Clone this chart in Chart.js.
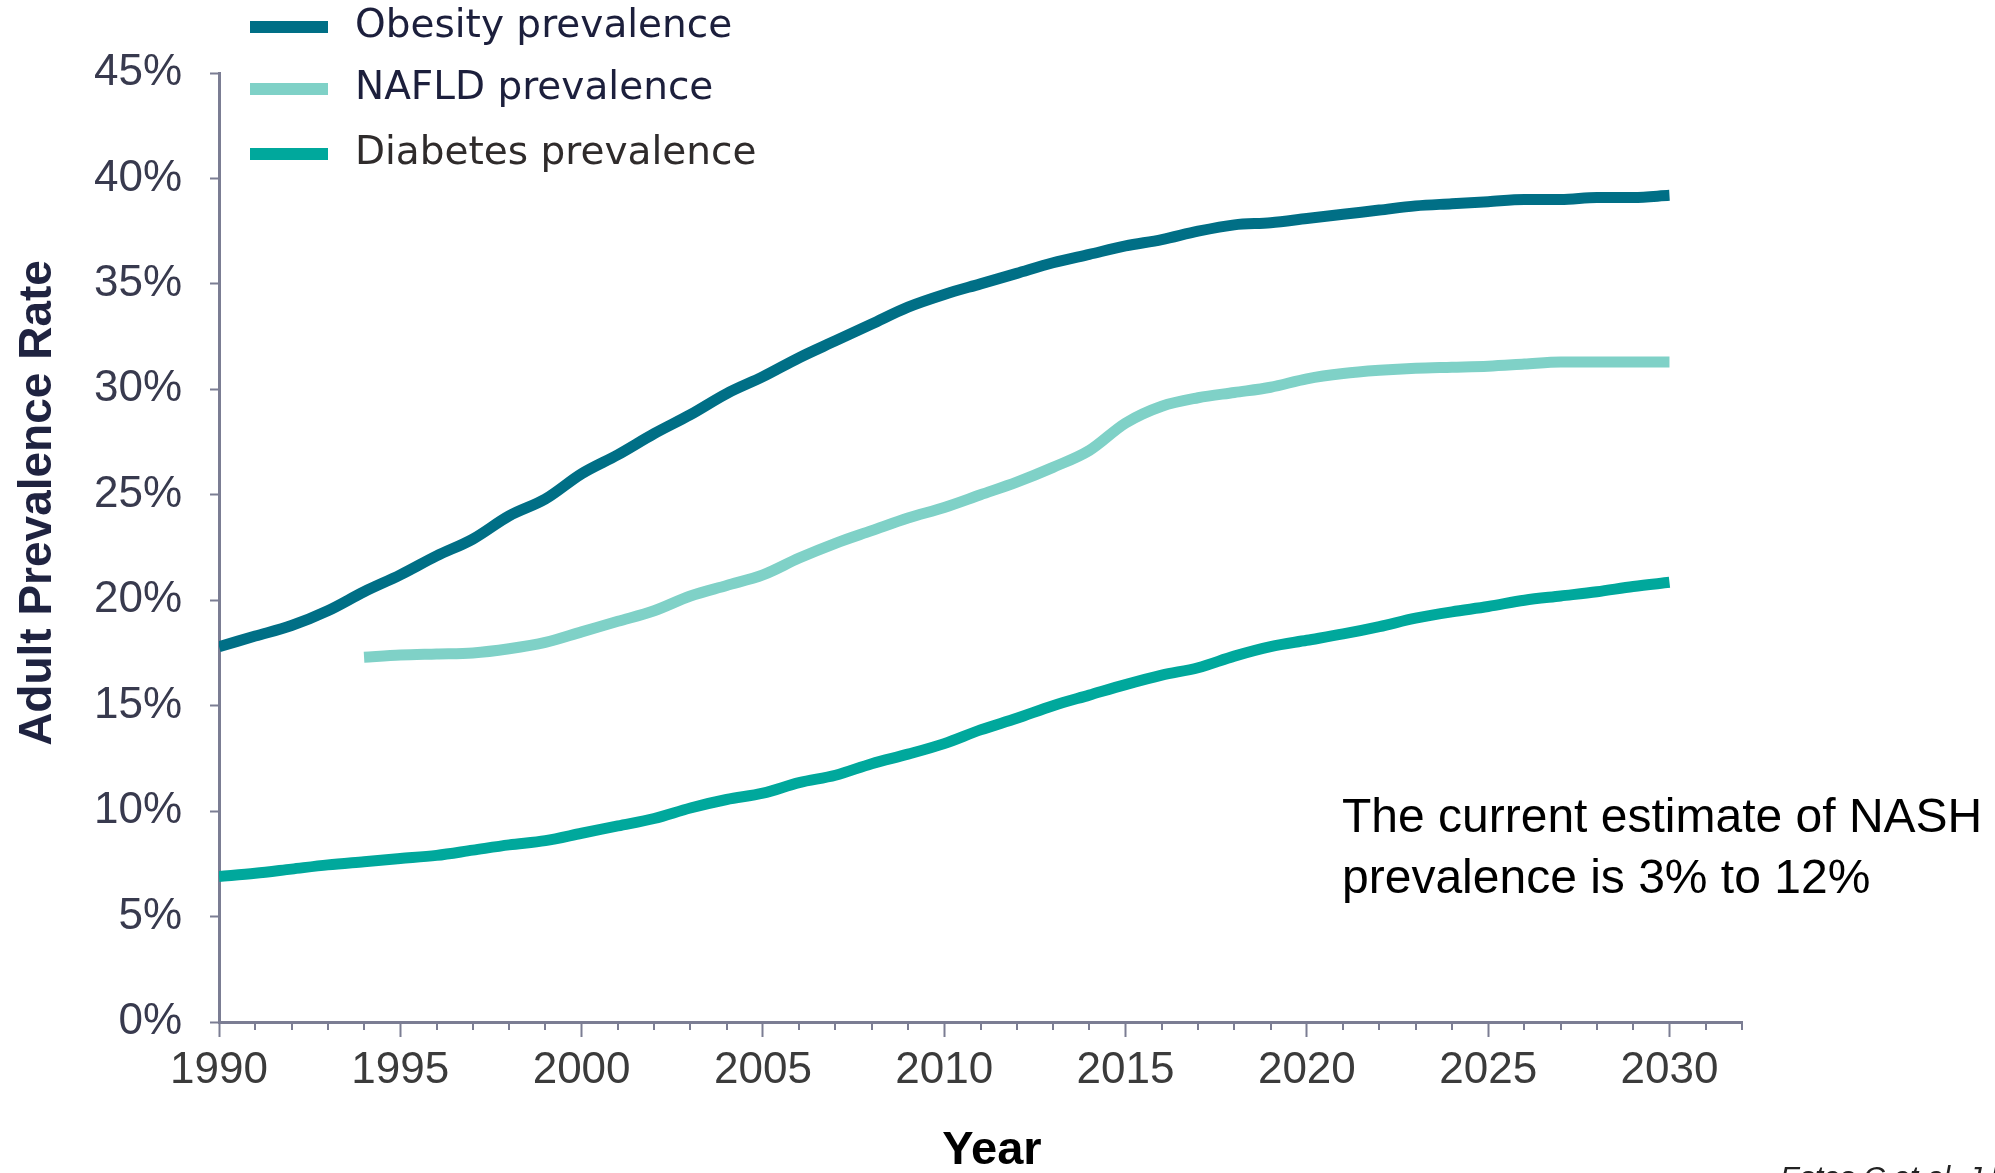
<!DOCTYPE html>
<html>
<head>
<meta charset="utf-8">
<title>Adult Prevalence Rate</title>
<script src="https://cdn.jsdelivr.net/npm/chart.js@4.4.1/dist/chart.umd.min.js"></script>
<style>
  html, body { margin: 0; padding: 0; background: #ffffff; }
  #wrap { width: 1995px; height: 1173px; }
</style>
</head>
<body>
<div id="wrap"><canvas id="chart" width="1995" height="1173"></canvas></div>
<script>
// Años del eje X
const years = [
  1990, 1991, 1992, 1993, 1994, 1995, 1996, 1997, 1998, 1999,
  2000, 2001, 2002, 2003, 2004, 2005, 2006, 2007, 2008, 2009,
  2010, 2011, 2012, 2013, 2014, 2015, 2016, 2017, 2018, 2019,
  2020, 2021, 2022, 2023, 2024, 2025, 2026, 2027, 2028, 2029, 2030,
];

// Prevalencia (%)
const obesity = [
  17.8, 18.3, 18.8, 19.5, 20.4, 21.2, 22.1, 22.9, 24.0, 24.8,
  26.0, 26.9, 27.9, 28.8, 29.8, 30.6, 31.5, 32.3, 33.1, 33.9,
  34.5, 35.0, 35.5, 36.0, 36.4, 36.8, 37.1, 37.5, 37.8, 37.9,
  38.1, 38.3, 38.5, 38.7, 38.8, 38.9, 39.0, 39.0, 39.1, 39.1, 39.2,
];

const nafld = [
  null, null, null, null, 17.3, 17.4, 17.45, 17.5, 17.7, 18.0,
  18.5, 19.0, 19.5, 20.2, 20.7, 21.2, 22.0, 22.7, 23.3, 23.9,
  24.4, 25.0, 25.6, 26.3, 27.1, 28.4, 29.2, 29.6, 29.85, 30.1,
  30.5, 30.75, 30.9, 31.0, 31.05, 31.1, 31.2, 31.3, 31.3, 31.3, 31.3,
];

const diabetes = [
  6.9, 7.05, 7.25, 7.45, 7.6, 7.75, 7.9, 8.15, 8.4, 8.6,
  8.95, 9.3, 9.65, 10.15, 10.55, 10.85, 11.35, 11.7, 12.25, 12.7,
  13.2, 13.85, 14.4, 15.0, 15.5, 16.0, 16.45, 16.8, 17.35, 17.8,
  18.1, 18.4, 18.75, 19.15, 19.45, 19.7, 20.0, 20.2, 20.4, 20.65, 20.85,
];

const seriesLabels = ["Obesity prevalence", "NAFLD prevalence", "Diabetes prevalence"];
const seriesColors = ["#006f86", "#7fd1c7", "#00a89c"];
const legendTextColors = ["#1c1f3c", "#1c1f3c", "#2f2b2b"];

const axisColor = "#7b7d93";

// Convertir a puntos {x, y}
function toPoints(values) {
  return years.map((yr, i) => ({ x: yr, y: values[i] }));
}

// Marcas menores del eje X (cada año)
const minorTicks = {
  id: "minorTicks",
  afterDraw(chart) {
    const sx = chart.scales.x;
    const ctx = chart.ctx;
    ctx.save();
    ctx.strokeStyle = axisColor;
    ctx.lineWidth = 2;
    for (let yr = sx.min; yr <= sx.max; yr++) {
      if (yr % 5 === 0 && yr <= 2030) continue;
      const px = Math.round(sx.getPixelForValue(yr));
      ctx.beginPath();
      ctx.moveTo(px, sx.top);
      ctx.lineTo(px, sx.top + 8);
      ctx.stroke();
    }
    ctx.restore();
  },
};

// Leyenda, títulos de ejes y nota
const extras = {
  id: "extras",
  afterDraw(chart) {
    const ctx = chart.ctx;
    ctx.save();

    // leyenda
    const rowsY = [27, 89, 154];
    chart.data.datasets.forEach((ds, i) => {
      ctx.strokeStyle = ds.borderColor;
      ctx.lineWidth = 12;
      ctx.lineCap = "butt";
      ctx.beginPath();
      ctx.moveTo(250, rowsY[i]);
      ctx.lineTo(328, rowsY[i]);
      ctx.stroke();
      ctx.font = '39px "DejaVu Sans"';
      ctx.fillStyle = legendTextColors[i];
      ctx.textAlign = "left";
      ctx.textBaseline = "middle";
      ctx.fillText(ds.label, 355, rowsY[i]);
    });

    // título eje Y
    ctx.save();
    ctx.translate(38, 503);
    ctx.rotate(-Math.PI / 2);
    ctx.font = 'bold 46px "Liberation Sans"';
    ctx.fillStyle = "#1f2340";
    ctx.textAlign = "center";
    ctx.textBaseline = "middle";
    ctx.fillText("Adult Prevalence Rate", 0, 0);
    ctx.restore();

    // título eje X
    ctx.font = 'bold 47px "Liberation Sans"';
    ctx.fillStyle = "#000000";
    ctx.textAlign = "center";
    ctx.textBaseline = "middle";
    ctx.fillText("Year", 992, 1151);

    // nota
    ctx.font = '48px "Liberation Sans"';
    ctx.fillStyle = "#000000";
    ctx.textAlign = "left";
    ctx.textBaseline = "alphabetic";
    ctx.fillText("The current estimate of NASH", 1342, 832);
    ctx.fillText("prevalence is 3% to 12%", 1342, 893);

    // cita (cortada en el borde)
    ctx.font = 'italic 30px "Liberation Sans"';
    ctx.fillStyle = "#222222";
    ctx.fillText("Estes C et al. J Hepatol 2018", 1780, 1187);

    ctx.restore();
  },
};

const bgWhite = {
  id: "bgWhite",
  beforeDraw(chart) {
    const ctx = chart.ctx;
    ctx.save();
    ctx.fillStyle = "#ffffff";
    ctx.fillRect(0, 0, chart.width, chart.height);
    ctx.restore();
  },
};

const ctx = document.getElementById("chart").getContext("2d");
new Chart(ctx, {
  type: "line",
  data: {
    datasets: [obesity, nafld, diabetes].map((vals, i) => ({
      label: seriesLabels[i],
      data: toPoints(vals),
      borderColor: seriesColors[i],
      backgroundColor: seriesColors[i],
      borderWidth: 11,
      borderCapStyle: "butt",
      borderJoinStyle: "round",
      pointRadius: 0,
      fill: false,
      cubicInterpolationMode: "monotone",
      spanGaps: false,
    })),
  },
  options: {
    responsive: false,
    animation: false,
    events: [],
    layout: { padding: { top: 73, right: 253, left: 0, bottom: 0 } },
    plugins: {
      legend: { display: false },
      tooltip: { enabled: false },
    },
    scales: {
      x: {
        type: "linear",
        min: 1990,
        max: 2032,
        afterFit(scale) { scale.height = 151; },
        border: { color: axisColor, width: 3 },
        grid: { drawOnChartArea: false, tickLength: 15, tickColor: axisColor, tickWidth: 2 },
        ticks: {
          stepSize: 5,
          includeBounds: false,
          padding: 7,
          color: "#3b3b3b",
          font: { family: "Liberation Sans", size: 44 },
          callback: (v) => String(v),
        },
      },
      y: {
        min: 0,
        max: 45,
        afterFit(scale) { scale.width = 219; },
        border: { color: axisColor, width: 3 },
        grid: { drawOnChartArea: false, tickLength: 9, tickColor: axisColor, tickWidth: 2 },
        ticks: {
          stepSize: 5,
          padding: 28,
          color: "#383a4e",
          font: { family: "Liberation Sans", size: 44 },
          callback: (v) => v + "%",
        },
      },
    },
  },
  plugins: [bgWhite, minorTicks, extras],
});
</script>
</body>
</html>
